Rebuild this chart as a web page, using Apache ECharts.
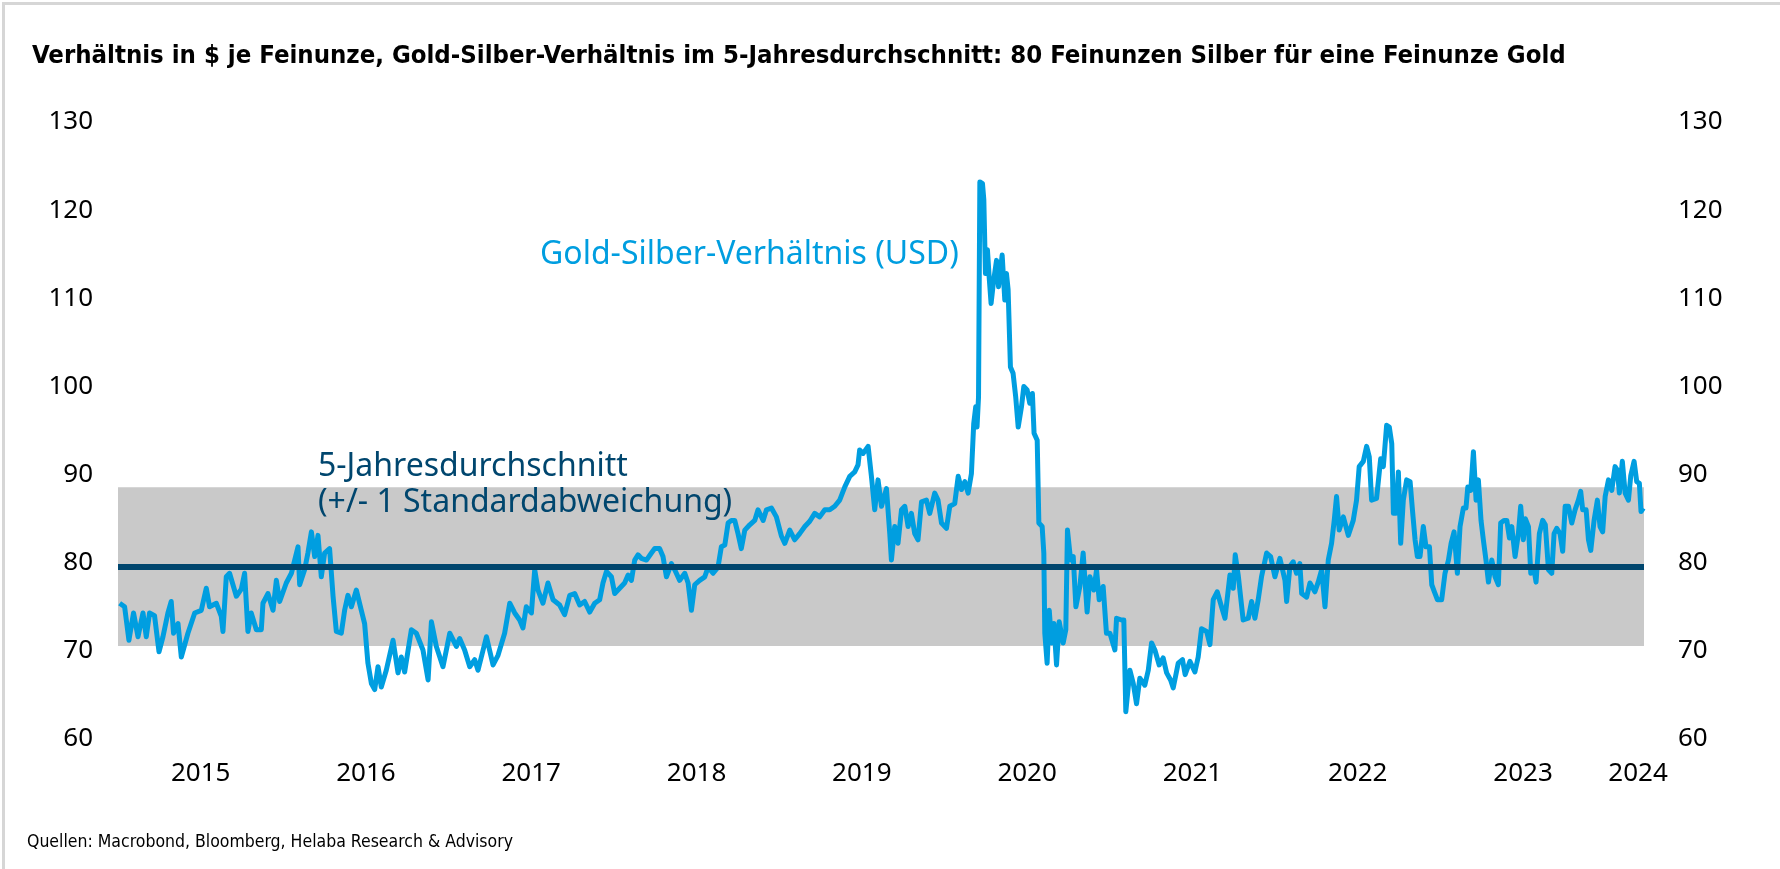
<!DOCTYPE html>
<html>
<head>
<meta charset="utf-8">
<script src="https://cdn.jsdelivr.net/npm/echarts@6/dist/echarts.min.js"></script>
<style>
  html, body { margin: 0; padding: 0; background: #fff; }
  #wrap { position: relative; width: 1780px; height: 869px; }
  #main { position: absolute; left: 0; top: 0; width: 1780px; height: 869px; }
  #frame { position: absolute; left: 2px; top: 2px; right: 0; bottom: 0;
           border-top: 3px solid #d6d6d6; border-left: 3px solid #d6d6d6; pointer-events: none; }
</style>
</head>
<body>
<div id="wrap">
  <div id="main"></div>
  <div id="frame"></div>
</div>
<script type="text/javascript">
  // Gold-Silber-Verhaeltnis, [Jahr (dezimal), Verhaeltnis]
  var gsr2015 = [[2015.010,75.4],[2015.040,75.0],[2015.066,71.2],[2015.094,74.3],[2015.121,71.6],[2015.151,74.3],[2015.171,71.6],[2015.191,74.3],[2015.221,74.0],[2015.248,69.9],[2015.272,71.6],[2015.302,74.3],[2015.322,75.6],[2015.336,72.0],[2015.363,73.1],[2015.383,69.3],[2015.423,72.0],[2015.464,74.3],[2015.504,74.6],[2015.534,77.1],[2015.554,75.0],[2015.595,75.4],[2015.625,73.9],[2015.635,72.2],[2015.655,78.4],[2015.675,78.8],[2015.716,76.2],[2015.746,77.0],[2015.766,78.8],[2015.786,72.2],[2015.806,74.3],[2015.837,72.4],[2015.867,72.4],[2015.877,75.4],[2015.907,76.5],[2015.938,74.6],[2015.958,78.0],[2015.978,75.6]];
  var gsr2016 = [[2016.018,77.7],[2016.049,78.8],[2016.089,81.8],[2016.099,77.5],[2016.129,79.2],[2016.149,81.1],[2016.170,83.5],[2016.190,80.7],[2016.210,83.1],[2016.230,78.4],[2016.250,81.1],[2016.280,81.6],[2016.301,76.2],[2016.321,72.2],[2016.351,72.0],[2016.371,74.6],[2016.391,76.3],[2016.412,75.0],[2016.442,76.9],[2016.472,74.6],[2016.492,73.1],[2016.512,68.6],[2016.533,66.3],[2016.553,65.6],[2016.573,68.2],[2016.593,65.9],[2016.623,67.8],[2016.664,71.2],[2016.694,67.5],[2016.714,69.3],[2016.734,67.6],[2016.775,72.4],[2016.805,72.0],[2016.845,70.1],[2016.876,66.7],[2016.896,73.3],[2016.926,70.5],[2016.966,68.2]];
  var gsr2017 = [[2017.007,72.0],[2017.047,70.5],[2017.067,71.4],[2017.097,70.1],[2017.128,68.2],[2017.158,69.0],[2017.178,67.8],[2017.229,71.6],[2017.269,68.4],[2017.299,69.5],[2017.339,72.0],[2017.370,75.4],[2017.400,74.3],[2017.430,73.5],[2017.450,72.6],[2017.470,75.0],[2017.501,74.3],[2017.521,79.2],[2017.541,76.9],[2017.571,75.4],[2017.601,77.7],[2017.632,75.8],[2017.672,75.2],[2017.702,74.1],[2017.733,76.3],[2017.763,76.5],[2017.793,75.2],[2017.823,75.6],[2017.854,74.4],[2017.884,75.4],[2017.914,75.8],[2017.934,77.7],[2017.955,79.0],[2017.985,78.4]];
  var gsr2018 = [[2018.005,76.5],[2018.035,77.1],[2018.065,77.7],[2018.086,78.6],[2018.106,78.0],[2018.126,80.3],[2018.146,80.9],[2018.166,80.5],[2018.197,80.3],[2018.227,81.1],[2018.247,81.6],[2018.277,81.6],[2018.297,80.7],[2018.318,78.4],[2018.348,79.9],[2018.368,79.2],[2018.398,78.0],[2018.429,78.8],[2018.449,77.7],[2018.469,74.6],[2018.489,77.5],[2018.519,78.0],[2018.550,78.4],[2018.570,79.5],[2018.600,78.8],[2018.630,79.5],[2018.650,81.8],[2018.671,82.0],[2018.691,84.5],[2018.711,84.8],[2018.731,84.8],[2018.751,83.3],[2018.771,81.6],[2018.792,83.7],[2018.822,84.3],[2018.852,84.8],[2018.872,86.0],[2018.903,84.8],[2018.923,86.0],[2018.953,86.2],[2018.983,85.2]];
  var gsr2019 = [[2019.014,83.0],[2019.034,82.2],[2019.064,83.7],[2019.094,82.6],[2019.124,83.3],[2019.155,84.1],[2019.185,84.7],[2019.215,85.6],[2019.245,85.2],[2019.276,86.0],[2019.306,86.0],[2019.336,86.4],[2019.366,87.1],[2019.397,88.6],[2019.427,89.8],[2019.457,90.3],[2019.477,91.1],[2019.487,92.8],[2019.508,92.4],[2019.538,93.2],[2019.558,89.8],[2019.578,86.0],[2019.598,89.4],[2019.619,86.4],[2019.649,88.4],[2019.669,83.3],[2019.679,80.3],[2019.699,84.1],[2019.719,82.2],[2019.740,86.0],[2019.760,86.4],[2019.780,84.1],[2019.800,85.6],[2019.820,83.3],[2019.840,82.6],[2019.861,86.9],[2019.891,87.1],[2019.911,85.6],[2019.941,87.9],[2019.961,87.1],[2019.982,84.5]];
  var gsr2020 = [[2020.012,83.9],[2020.032,86.4],[2020.062,86.7],[2020.083,89.8],[2020.103,88.3],[2020.123,89.2],[2020.143,87.9],[2020.163,90.1],[2020.177,95.8],[2020.189,97.7],[2020.197,95.4],[2020.206,98.8],[2020.214,123.2],[2020.230,123.0],[2020.238,121.2],[2020.248,112.8],[2020.260,115.5],[2020.270,112.5],[2020.282,109.4],[2020.298,112.1],[2020.315,114.3],[2020.327,111.3],[2020.349,114.9],[2020.365,109.8],[2020.375,112.8],[2020.385,111.0],[2020.399,102.2],[2020.415,101.5],[2020.431,98.8],[2020.446,95.4],[2020.466,97.7],[2020.480,100.0],[2020.500,99.6],[2020.516,98.1],[2020.532,99.2],[2020.542,94.7],[2020.561,93.9],[2020.571,84.5],[2020.591,84.1],[2020.601,81.1],[2020.607,72.0],[2020.621,68.6],[2020.634,74.6],[2020.648,70.9],[2020.662,73.1],[2020.678,68.4],[2020.694,73.3],[2020.718,70.9],[2020.734,72.4],[2020.744,83.7],[2020.763,80.3],[2020.779,80.7],[2020.795,75.0],[2020.819,77.3],[2020.839,81.1],[2020.863,74.4],[2020.880,78.4],[2020.904,76.9],[2020.920,79.2],[2020.936,75.8],[2020.960,77.3],[2020.980,72.0]];
  var gsr2021 = [[2021.001,72.0],[2021.031,70.1],[2021.041,73.7],[2021.071,73.5],[2021.085,73.5],[2021.097,63.1],[2021.122,67.8],[2021.142,66.3],[2021.162,64.0],[2021.182,66.9],[2021.212,66.1],[2021.233,67.8],[2021.253,70.9],[2021.273,70.1],[2021.299,68.4],[2021.323,69.2],[2021.344,67.5],[2021.368,66.7],[2021.384,65.8],[2021.414,68.6],[2021.440,69.0],[2021.456,67.3],[2021.485,68.8],[2021.515,67.6],[2021.535,69.3],[2021.555,72.5],[2021.586,72.2],[2021.606,70.7],[2021.626,75.8],[2021.650,76.7],[2021.676,75.0],[2021.697,73.7],[2021.727,78.6],[2021.747,77.1],[2021.759,80.9],[2021.777,78.6],[2021.807,73.5],[2021.838,73.7],[2021.858,75.6],[2021.878,73.7],[2021.898,75.8],[2021.918,78.4],[2021.949,81.1],[2021.973,80.7],[2021.999,78.4]];
  var gsr2022 = [[2022.029,80.5],[2022.060,78.0],[2022.070,75.6],[2022.090,79.6],[2022.110,80.1],[2022.130,78.8],[2022.150,79.9],[2022.161,76.5],[2022.191,76.1],[2022.211,77.7],[2022.241,76.7],[2022.261,77.8],[2022.282,79.2],[2022.302,75.0],[2022.322,80.3],[2022.342,82.2],[2022.358,84.8],[2022.372,87.5],[2022.388,83.7],[2022.413,85.2],[2022.443,83.1],[2022.473,84.8],[2022.493,87.1],[2022.509,90.9],[2022.534,91.5],[2022.554,93.2],[2022.570,92.0],[2022.584,87.1],[2022.614,87.3],[2022.639,91.8],[2022.655,90.9],[2022.675,95.6],[2022.691,95.4],[2022.706,93.5],[2022.716,85.6],[2022.732,85.6],[2022.746,90.3],[2022.760,82.2],[2022.776,87.1],[2022.796,89.4],[2022.817,89.2],[2022.831,86.0],[2022.847,82.6],[2022.861,80.7],[2022.877,80.7],[2022.897,84.1],[2022.913,81.8],[2022.934,81.8],[2022.948,77.5],[2022.964,76.7],[2022.982,75.8]];
  var gsr2023 = [[2023.008,75.8],[2023.028,78.8],[2023.049,80.3],[2023.065,82.2],[2023.083,83.5],[2023.103,78.8],[2023.119,84.1],[2023.139,86.2],[2023.155,86.2],[2023.166,88.6],[2023.184,88.2],[2023.200,92.6],[2023.216,87.1],[2023.230,89.4],[2023.246,84.8],[2023.260,82.6],[2023.276,80.3],[2023.291,77.8],[2023.311,80.3],[2023.331,78.4],[2023.351,77.5],[2023.365,84.5],[2023.385,84.8],[2023.402,84.8],[2023.418,82.8],[2023.432,84.1],[2023.452,80.7],[2023.472,83.3],[2023.486,86.4],[2023.502,82.6],[2023.514,85.0],[2023.533,84.1],[2023.547,78.8],[2023.567,79.2],[2023.579,77.8],[2023.599,83.3],[2023.619,84.8],[2023.635,84.3],[2023.654,79.2],[2023.674,78.8],[2023.688,83.3],[2023.704,83.9],[2023.724,83.3],[2023.740,81.3],[2023.755,86.4],[2023.775,86.4],[2023.795,84.5],[2023.815,86.0],[2023.835,87.1],[2023.849,88.1],[2023.861,86.0],[2023.882,86.0],[2023.896,82.6],[2023.910,81.4],[2023.930,84.8],[2023.950,87.1],[2023.966,84.1],[2023.982,83.5],[2023.997,87.5]];
  var gsr2024 = [[2024.017,89.4],[2024.037,88.2],[2024.057,90.9],[2024.071,90.5],[2024.083,87.9],[2024.101,91.5],[2024.118,87.9],[2024.138,87.1],[2024.152,89.9],[2024.172,91.5],[2024.188,89.2],[2024.204,89.0],[2024.214,85.8],[2024.228,86.2]];

  // 5-Jahresdurchschnitt und +/- 1 Standardabweichung
  var avg5y = 79.55;
  var bandLow = 70.55;
  var bandHigh = 88.55;

  // Achsen
  var xStart = 2015.0;
  var xEnd = 2024.232;
  var yearLabels = [2015, 2016, 2017, 2018, 2019, 2020, 2021, 2022, 2023, 2024];
  var yearLabelAt = [2015.5, 2016.5, 2017.5, 2018.5, 2019.5, 2020.5, 2021.5, 2022.5, 2023.5, 2024.196];
  var yTicks = [60, 70, 80, 90, 100, 110, 120, 130];

  var gsr = [].concat(gsr2015, gsr2016, gsr2017, gsr2018, gsr2019, gsr2020, gsr2021, gsr2022, gsr2023, gsr2024);

  var lightBlue = '#009ee0';
  var darkBlue = '#00466e';
  var narrowFont = "'Liberation Sans Narrow', 'DejaVu Sans Condensed', sans-serif";
  var textFont = "'Noto Sans', 'DejaVu Sans', sans-serif";

  var dom = document.getElementById('main');
  var chart = echarts.init(dom, null, {renderer: 'canvas'});

  var yAxisBase = {
    type: 'value',
    min: yTicks[0],
    max: yTicks[yTicks.length - 1],
    interval: 10,
    axisLine: {show: false},
    axisTick: {show: false},
    splitLine: {show: false}
  };

  var option = {
    backgroundColor: '#ffffff',
    animation: false,
    title: {
      text: 'Verhältnis in $ je Feinunze, Gold-Silber-Verhältnis im 5-Jahresdurchschnitt: 80 Feinunzen Silber für eine Feinunze Gold',
      left: 27,
      top: 38,
      textStyle: {fontFamily: narrowFont, fontWeight: 'bold', fontSize: 25.5, color: '#000'}
    },
    grid: {left: 118, right: 136, top: 122, bottom: 130},
    xAxis: {
      type: 'value',
      min: xStart,
      max: xEnd,
      axisLine: {show: false},
      axisTick: {show: false},
      splitLine: {show: false},
      axisLabel: {
        customValues: yearLabelAt,
        formatter: function (v) {
          return String(yearLabels[yearLabelAt.indexOf(v)]);
        },
        margin: 22,
        fontFamily: textFont,
        fontSize: 26,
        color: '#000'
      }
    },
    yAxis: [
      Object.assign({}, yAxisBase, {
        position: 'left',
        axisLabel: {margin: 25, fontFamily: textFont, fontSize: 26, color: '#000'}
      }),
      Object.assign({}, yAxisBase, {
        position: 'right',
        axisLabel: {margin: 34, fontFamily: textFont, fontSize: 26, color: '#000'}
      })
    ],
    graphic: [
      {type: 'text', x: 540, y: 255, z: 100,
       style: {text: 'Gold-Silber-Verhältnis (USD)', fill: lightBlue, font: '32px ' + textFont, verticalAlign: 'middle'}},
      {type: 'text', x: 318, y: 467, z: 100,
       style: {text: '5-Jahresdurchschnitt', fill: darkBlue, font: '32px ' + textFont, verticalAlign: 'middle'}},
      {type: 'text', x: 318, y: 503, z: 100,
       style: {text: '(+/- 1 Standardabweichung)', fill: darkBlue, font: '32px ' + textFont, verticalAlign: 'middle'}},
      {type: 'text', x: 27, y: 842, z: 100,
       style: {text: 'Quellen: Macrobond, Bloomberg, Helaba Research & Advisory', fill: '#000', font: '17.5px ' + narrowFont, verticalAlign: 'middle'}}
    ],
    series: [
      {
        name: 'Gold-Silber-Verhältnis (USD)',
        type: 'line',
        data: gsr,
        showSymbol: false,
        z: 2,
        lineStyle: {color: lightBlue, width: 5, join: 'round'},
        markArea: {
          silent: true,
          itemStyle: {color: '#c9c9c9'},
          data: [[{yAxis: bandLow}, {yAxis: bandHigh}]]
        },
        markLine: {
          silent: true,
          symbol: 'none',
          label: {show: false},
          lineStyle: {color: darkBlue, width: 6, type: 'solid'},
          data: [{yAxis: avg5y}]
        }
      }
    ]
  };

  chart.setOption(option);
</script>
</body>
</html>
